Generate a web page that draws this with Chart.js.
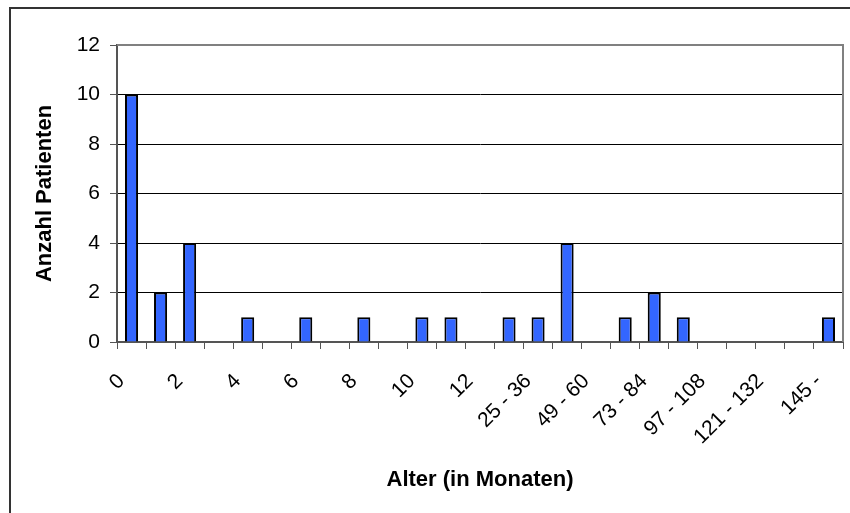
<!DOCTYPE html>
<html>
<head>
<meta charset="utf-8">
<script src="https://cdn.jsdelivr.net/npm/chart.js@4.4.1/dist/chart.umd.min.js"></script>
<style>
  body { margin: 0; background: #fff; }
  #wrap { position: relative; width: 850px; height: 513px; overflow: hidden; }
  #rahmen { position: absolute; left: 9px; top: 7px; width: 900px; height: 600px;
            border-left: 2px solid #333; border-top: 2px solid #333; }
  canvas { position: absolute; left: 0; top: 0; }
</style>
</head>
<body>
<div id="wrap">
  <div id="rahmen"></div>
  <canvas id="chart" width="850" height="513"></canvas>
</div>
<script>
// Altersgruppen (Monate)
const kategorien = ['0', '1', '2', '3', '4', '5', '6', '7', '8', '9', '10', '11', '12',
    '13 - 24', '25 - 36', '37 - 48', '49 - 60', '61 - 72', '73 - 84', '85 - 96',
    '97 - 108', '109 - 120', '121 - 132', '133 - 144', '145 -'];
// Anzahl Patienten je Gruppe
const anzahl = [10, 2, 4, 0, 1, 0, 1, 0, 1, 0, 1, 1, 0,
    1, 1, 4, 0, 1, 2, 1, 0, 0, 0, 0, 1];
const yTicks = [0, 2, 4, 6, 8, 10, 12];

// Rahmen oben/rechts um die Zeichenfläche
const plotRahmen = {
    id: 'plotRahmen',
    afterDraw(chart) {
        const { ctx, chartArea: a } = chart;
        ctx.save();
        ctx.strokeStyle = '#808080';
        ctx.lineWidth = 2;
        ctx.beginPath();
        ctx.moveTo(a.left, a.top);
        ctx.lineTo(a.right, a.top);
        ctx.lineTo(a.right, a.bottom);
        ctx.stroke();
        ctx.restore();
    }
};

const ctx = document.getElementById('chart').getContext('2d');
new Chart(ctx, {
    type: 'bar',
    data: {
        labels: kategorien,
        datasets: [{
            data: anzahl,
            backgroundColor: '#3366ff',
            borderColor: '#000',
            borderWidth: 2,
            categoryPercentage: 1,
            barPercentage: 0.45
        }]
    },
    options: {
        responsive: false,
        animation: false,
        devicePixelRatio: 1,
        layout: { padding: { left: 0, top: 45, right: 7, bottom: 0 } },
        plugins: { legend: { display: false }, tooltip: { enabled: false } },
        scales: {
            x: {
                afterFit(s) {
                    s.height = 171;
                    s.paddingLeft = 0;
                    s.paddingRight = 0;
                },
                grid: { offset: true, drawOnChartArea: false, color: '#555', tickLength: 7 },
                border: { color: '#555', width: 2 },
                ticks: {
                    autoSkip: false,
                    maxRotation: 45,
                    minRotation: 45,
                    color: '#000',
                    padding: 20,
                    labelOffset: -10,
                    font: { family: 'Liberation Sans, Arial', size: 21 },
                    callback: (v, i) => (i % 2 === 0 ? kategorien[i] : '')
                },
                title: {
                    display: true,
                    text: 'Alter (in Monaten)',
                    color: '#000',
                    font: { family: 'Liberation Sans, Arial', size: 22, weight: 'bold' },
                    padding: { top: 0, bottom: 20 }
                }
            },
            y: {
                min: 0,
                max: 12,
                afterFit(s) { s.width = 117; },
                afterBuildTicks(s) { s.ticks = yTicks.map(v => ({ value: v })); },
                grid: {
                    color: c => (c.tick && c.tick.value === 12 ? '#808080' : '#000'),
                    tickColor: '#555',
                    tickLength: 7
                },
                border: { color: '#555', width: 2 },
                ticks: {
                    color: '#000',
                    padding: 10,
                    font: { family: 'Liberation Sans, Arial', size: 21 }
                },
                title: {
                    display: true,
                    text: 'Anzahl Patienten',
                    color: '#000',
                    font: { family: 'Liberation Sans, Arial', size: 22, weight: 'bold' },
                    padding: { top: 32, bottom: 0 }
                }
            }
        }
    },
    plugins: [plotRahmen]
});
</script>
</body>
</html>
